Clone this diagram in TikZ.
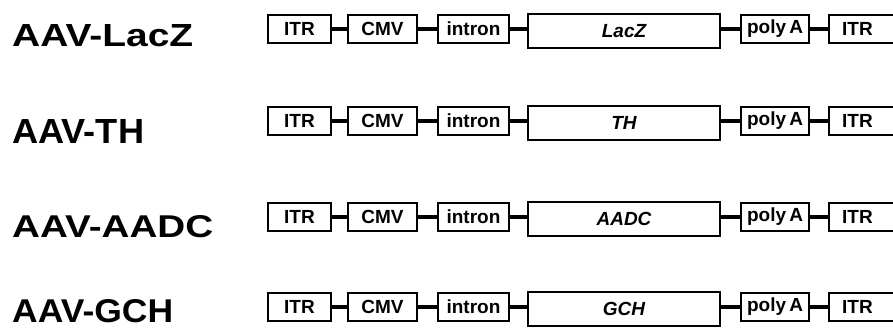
\documentclass[tikz,border=0pt]{standalone}
\usepackage{fontspec}
\setmainfont{Liberation Sans}
\usepackage{graphicx}
\tikzset{
  x=1pt, y=-1pt,
  part/.style={draw=black, line width=1.8pt, inner sep=0pt, minimum height=28pt,
    font=\bfseries\fontsize{19}{19}\selectfont},
  genebox/.style={part, minimum height=34pt, font=\bfseries\itshape\fontsize{19}{19}\selectfont},
  link/.style={line width=3.6pt},
  lbl/.style={anchor=base west, inner sep=0pt, font=\bfseries}
}
\newcommand{\construct}[7]{% #1 id, #2 row y, #3 gene, #4 label, #5 label w, #6 label h, #7 label base y
  \node[lbl] (lab#1) at (12,#7) {\resizebox{#5pt}{#6pt}{#4}};
  \node[part, minimum width=63pt] (itrL#1) at (299.5,#2) {ITR};
  \node[part, minimum width=69pt] (cmv#1) at (382.5,#2) {CMV};
  \node[part, minimum width=71pt] (intron#1) at (473.5,#2) {intron};
  \node[genebox, minimum width=192pt] (gene#1) at (624,#2+2) {#3};
  \node[part, minimum width=68pt] (poly#1) at (775,#2) {poly\,A};
  \node[part, minimum width=71pt] (itrR#1) at (864.5,#2) {\hspace*{-14pt}ITR};
  \draw[link] (itrL#1.east) -- (cmv#1.west);
  \draw[link] (cmv#1.east) -- (intron#1.west);
  \draw[link] (intron#1.east) -- (intron#1.east -| gene#1.west);
  \draw[link] (gene#1.east |- poly#1.west) -- (poly#1.west);
  \draw[link] (poly#1.east) -- (itrR#1.west);
}
\begin{document}
\begin{tikzpicture}
\useasboundingbox (0,0) rectangle (893,329);
\clip (0,0) rectangle (893,329);
\fill[white] (0,0) rectangle (893,329);
\construct{A}{29}{LacZ}{AAV-LacZ}{181}{22}{47}
\construct{B}{121}{TH}{AAV-TH}{132}{24}{143}
\construct{C}{217}{AADC}{AAV-AADC}{201}{22}{237}
\construct{D}{307}{GCH}{AAV-GCH}{161}{23}{322}
\end{tikzpicture}
\end{document}
